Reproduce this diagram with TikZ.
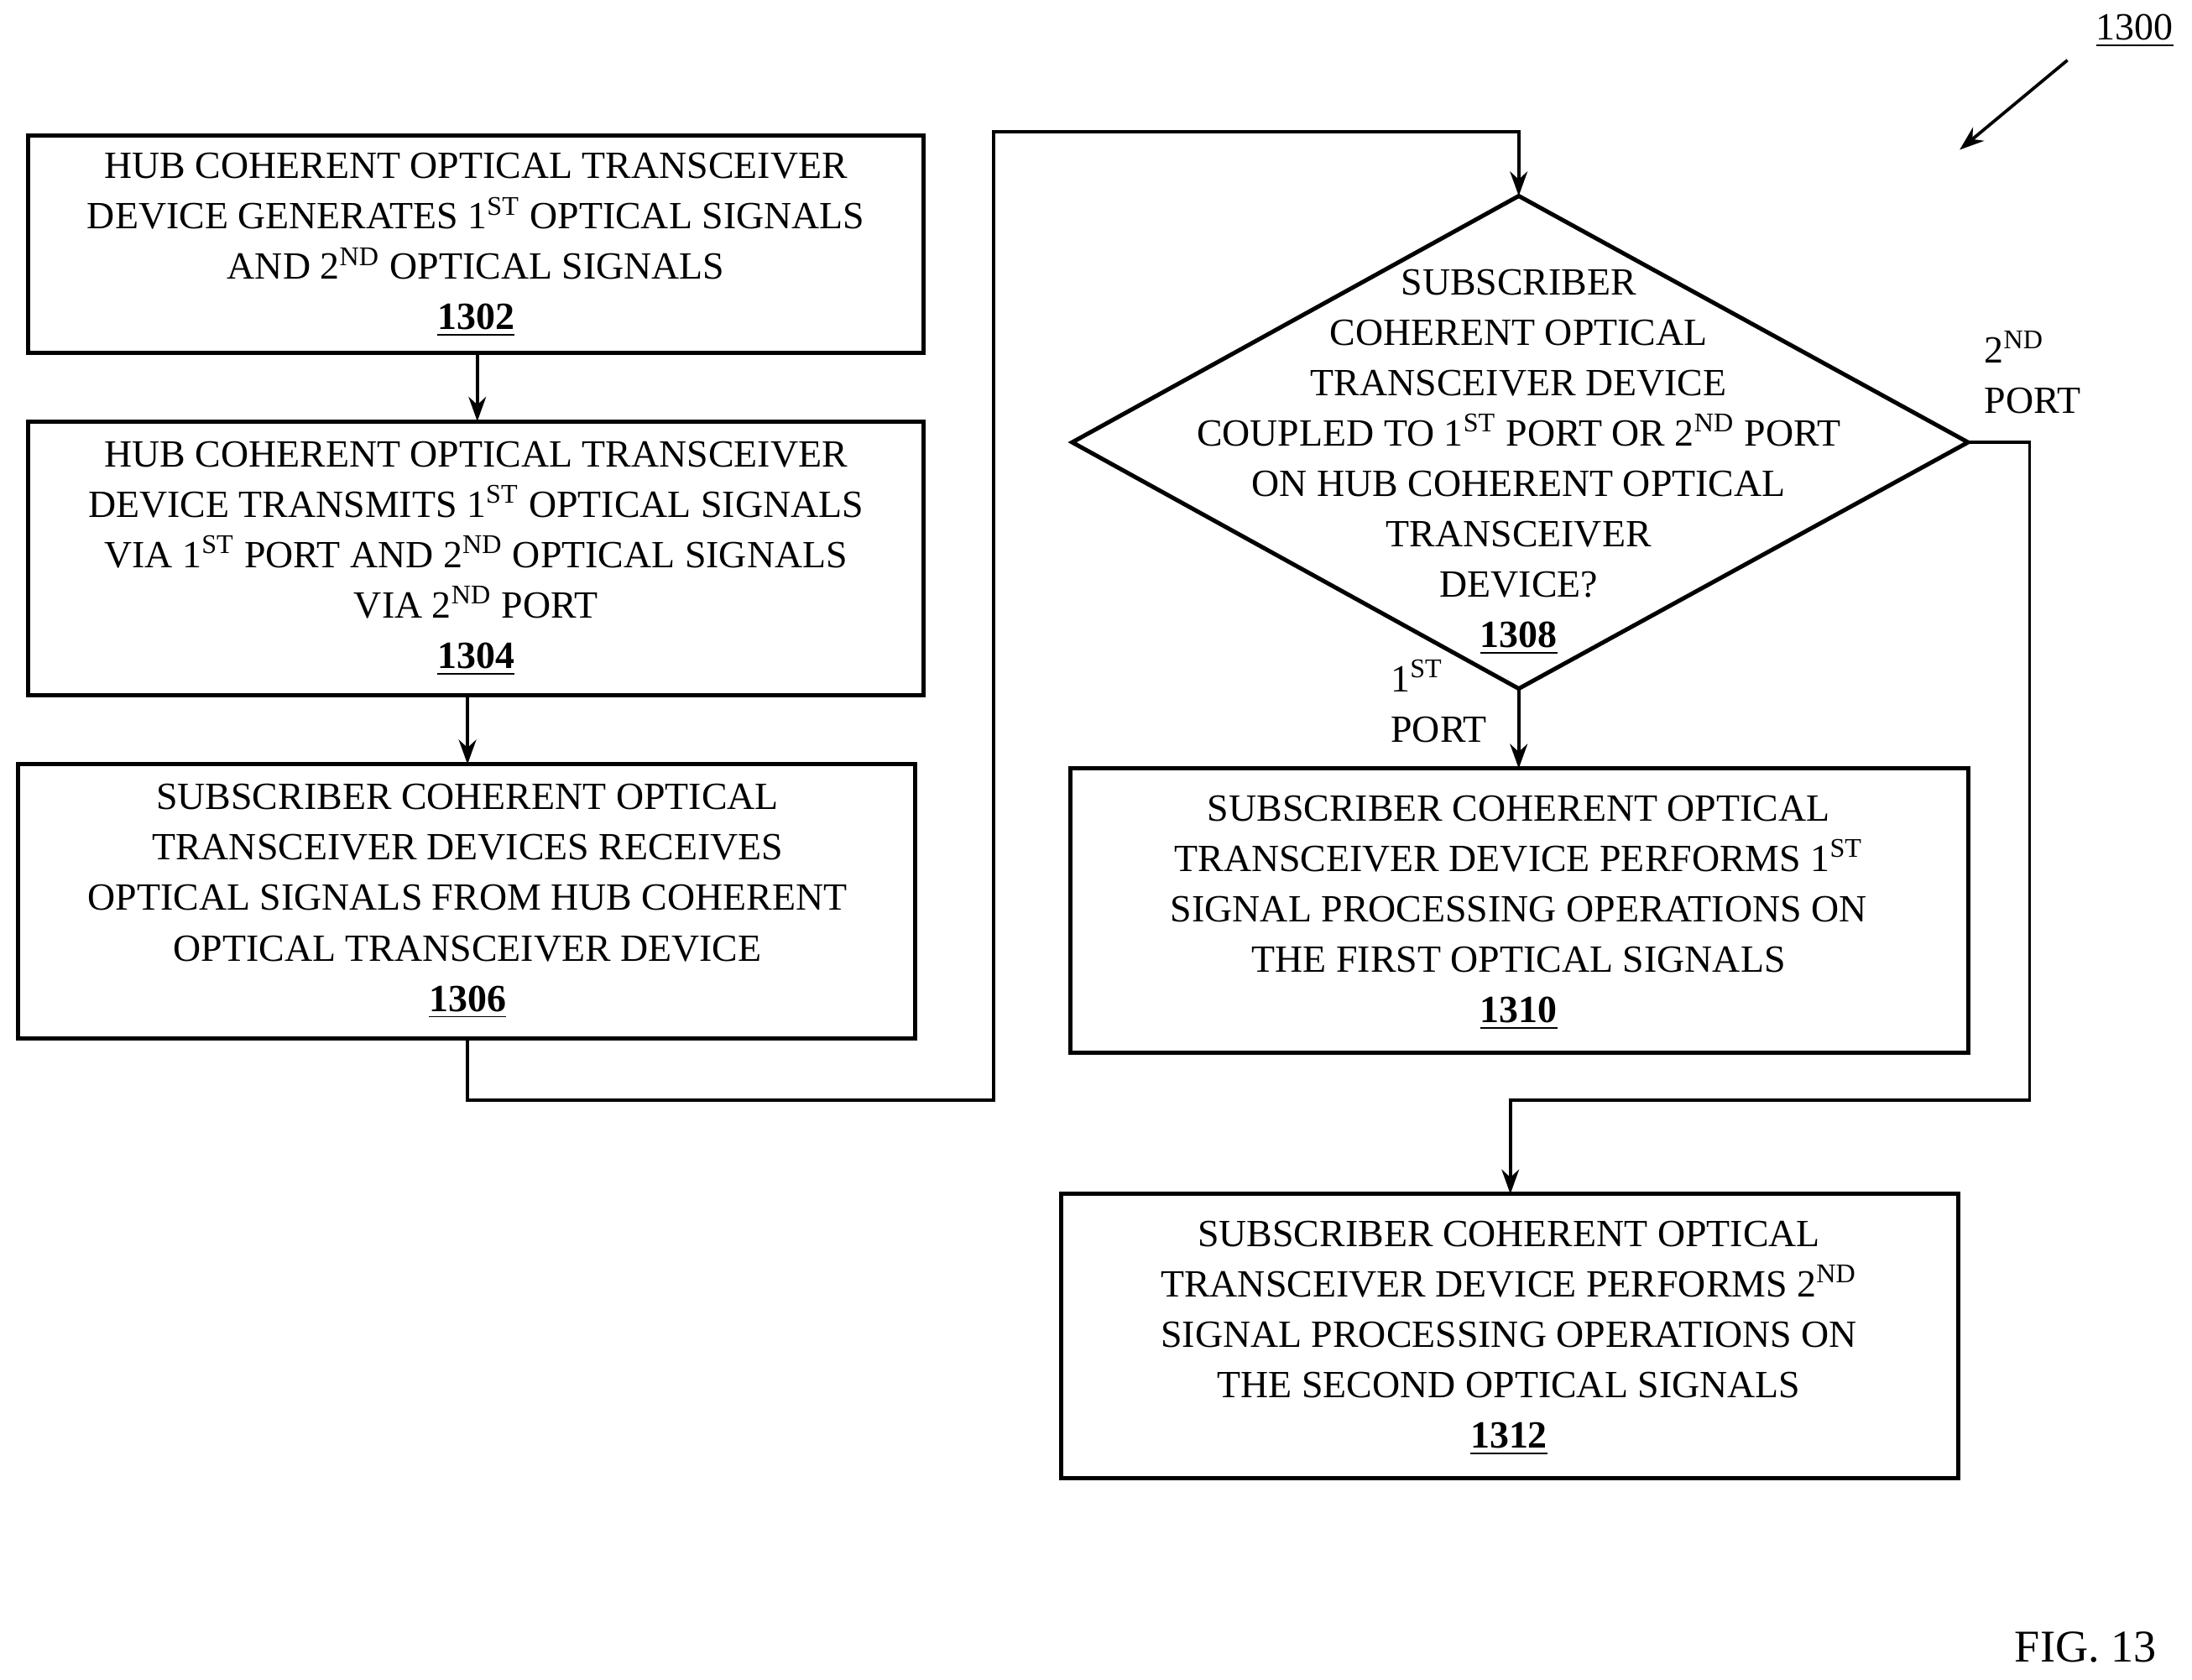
\documentclass[tikz,border=0pt]{standalone}
\usepackage{fontspec}
\setmainfont{Liberation Serif}
\usetikzlibrary{arrows.meta}
\newcommand{\sx}[1]{\textsuperscript{#1}}
\newcommand{\num}[1]{\textbf{\underline{#1}}}
\begin{document}
\begin{tikzpicture}[x=0.4pt,y=-0.4pt,
  box/.style={draw,line width=1.2pt},
  txt/.style={align=center,font=\fontsize{11}{14.4}\selectfont,inner sep=0pt},
  arr/.style={-{Stealth[length=7pt,width=5pt]},line width=0.9pt},
  ln/.style={line width=0.9pt}]
\useasboundingbox (0,0) rectangle (1566,1200);
% boxes
\draw[box] (20,97) rectangle (660,252);
\node[txt] (t1302) at (340,175) {HUB COHERENT OPTICAL TRANSCEIVER\\DEVICE GENERATES 1\sx{ST} OPTICAL SIGNALS\\AND 2\sx{ND} OPTICAL SIGNALS\\\num{1302}};
\coordinate (b1302) at (341,252);
\draw[box] (20,301) rectangle (660,497);
\node[txt] (t1304) at (340,399) {HUB COHERENT OPTICAL TRANSCEIVER\\DEVICE TRANSMITS 1\sx{ST} OPTICAL SIGNALS\\VIA 1\sx{ST} PORT AND 2\sx{ND} OPTICAL SIGNALS\\VIA 2\sx{ND} PORT\\\num{1304}};
\coordinate (a1304) at (341,301);
\coordinate (b1304) at (334,497);
\draw[box] (13,546) rectangle (654,742);
\node[txt] (t1306) at (334,644) {SUBSCRIBER COHERENT OPTICAL\\TRANSCEIVER DEVICES RECEIVES\\OPTICAL SIGNALS FROM HUB COHERENT\\OPTICAL TRANSCEIVER DEVICE\\\num{1306}};
\coordinate (a1306) at (334,546);
\coordinate (b1306) at (334,742);
% diamond
\coordinate (dt) at (1085,140);
\coordinate (dl) at (766,316);
\coordinate (dr) at (1406,316);
\coordinate (db) at (1085,492);
\draw[box] (dt) -- (dr) -- (db) -- (dl) -- cycle;
\node[txt] (t1308) at (1085,330) {SUBSCRIBER\\COHERENT OPTICAL\\TRANSCEIVER DEVICE\\COUPLED TO 1\sx{ST} PORT OR 2\sx{ND} PORT\\ON HUB COHERENT OPTICAL\\TRANSCEIVER\\DEVICE?\\\num{1308}};
\draw[box] (765,549) rectangle (1406,752);
\node[txt] (t1310) at (1085,652) {SUBSCRIBER COHERENT OPTICAL\\TRANSCEIVER DEVICE PERFORMS 1\sx{ST}\\SIGNAL PROCESSING OPERATIONS ON\\THE FIRST OPTICAL SIGNALS\\\num{1310}};
\coordinate (a1310) at (1085,549);
\draw[box] (758,853) rectangle (1399,1056);
\node[txt] (t1312) at (1078,956) {SUBSCRIBER COHERENT OPTICAL\\TRANSCEIVER DEVICE PERFORMS 2\sx{ND}\\SIGNAL PROCESSING OPERATIONS ON\\THE SECOND OPTICAL SIGNALS\\\num{1312}};
\coordinate (a1312) at (1079,853);
% connectors
\draw[arr] (b1302) -- (a1304);
\draw[arr] (b1304) -- (a1306);
\draw[arr] (b1306) |- (710,786) |- (1085,94) -- (dt);
\draw[arr] (db) -- (a1310);
\draw[arr] (dr) -- (1450,316) |- (1079,786) -- (a1312);
% labels
\node[txt,align=left] (p1) at (1028,501) {1\sx{ST}\\PORT};
\node[txt,align=left] (p2) at (1452,266) {2\sx{ND}\\PORT};
\node[txt] (n1300) at (1525,22) {\underline{1300}};
\coordinate (r1) at (1477,43);
\coordinate (r2) at (1400,107);
\draw[arr] (r1) -- (r2);
\node[txt,font=\fontsize{13}{16}\selectfont] (fig) at (1490,1177) {FIG. 13};
\end{tikzpicture}
\end{document}
